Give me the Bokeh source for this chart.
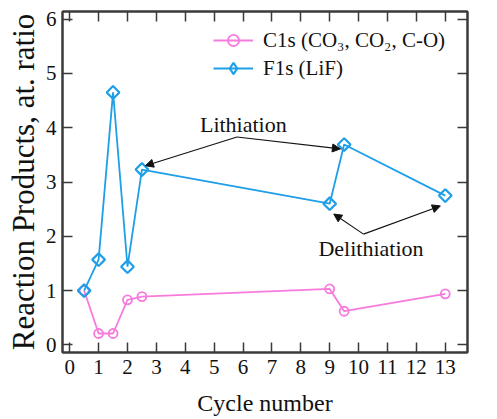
from bokeh.plotting import figure
from bokeh.models import (LinearAxis, Range1d, FixedTicker, Legend, LegendItem,
                          Label, Arrow, NormalHead)
from bokeh.embed import file_html
from bokeh.resources import INLINE
import math

# ---- data ----
c1s_x = [0.5, 1, 1.5, 2, 2.5, 9, 9.5, 13]
c1s_y = [1.0, 0.21, 0.21, 0.83, 0.89, 1.03, 0.62, 0.94]
f1s_x = [0.5, 1, 1.5, 2, 2.5, 9, 9.5, 13]
f1s_y = [1.0, 1.57, 4.65, 1.44, 3.23, 2.60, 3.69, 2.75]
x_ticks = list(range(0, 14))
y_ticks = list(range(0, 7))
c1s_label = "C1s (CO\u2083, CO\u2082, C-O)"
f1s_label = "F1s (LiF)"

FONT = "Liberation Serif"
PINK = "#F77BDD"
BLUE = "#1E9FE8"
AX = "#3a3a3a"

p = figure(width=497, height=419, output_backend="svg", toolbar_location=None,
           x_range=Range1d(-0.25, 13.77), y_range=Range1d(-0.14, 6.14),
           min_border_left=62, min_border_right=30, min_border_top=11,
           min_border_bottom=67, x_axis_location=None, y_axis_location=None)
p.grid.visible = False
p.outline_line_color = AX
p.outline_line_width = 2
p.background_fill_color = "white"
p.border_fill_color = "white"


def make_axis(ticks, show_labels):
    ax = LinearAxis(ticker=FixedTicker(ticks=ticks))
    ax.axis_line_color = AX
    ax.axis_line_width = 2
    ax.major_tick_line_color = AX
    ax.major_tick_line_width = 1.5
    ax.major_tick_in = 10
    ax.major_tick_out = 0
    ax.minor_tick_line_color = None
    ax.major_label_text_font = FONT
    ax.major_label_text_font_size = "21px"
    ax.major_label_text_color = "#111111"
    if not show_labels:
        ax.major_label_text_font_size = "0px"
        ax.major_label_text_color = None
        ax.major_label_standoff = 0
    return ax

bx = make_axis(x_ticks, True)
bx.axis_label = "Cycle number"
bx.axis_label_text_font = FONT
bx.axis_label_text_font_style = "normal"
bx.axis_label_text_font_size = "24px"
bx.axis_label_text_color = "#111111"
bx.major_label_standoff = 7
bx.axis_label_standoff = 13
p.add_layout(bx, "below")

ly = make_axis(y_ticks, True)
ly.axis_label = "Reaction Products, at. ratio"
ly.axis_label_text_font = FONT
ly.axis_label_text_font_style = "normal"
ly.axis_label_text_font_size = "31px"
ly.axis_label_text_color = "#111111"
ly.major_label_standoff = 6
ly.axis_label_standoff = 2
p.add_layout(ly, "left")

p.add_layout(make_axis(x_ticks, False), "above")
p.add_layout(make_axis(y_ticks, False), "right")

# ---- series ----
c_line = p.line(c1s_x, c1s_y, line_color=PINK, line_width=1.8)
c_pts = p.scatter(c1s_x, c1s_y, marker="circle", size=9, fill_color=None,
                  line_color=PINK, line_width=1.8)
f_line = p.line(f1s_x, f1s_y, line_color=BLUE, line_width=1.8)
f_pts = p.scatter(f1s_x, f1s_y, marker="square", angle=math.pi / 4, size=9,
                  fill_color=None, line_color=BLUE, line_width=2.2)
# legend-only glyph (NaN point, never drawn in the plot) so the legend shows a diamond
f_key = p.scatter(x=[float("nan")], y=[float("nan")], marker="diamond", size=16,
                  fill_color=None, line_color=BLUE, line_width=2.2)

legend = Legend(items=[LegendItem(label=c1s_label, renderers=[c_line, c_pts]),
                       LegendItem(label=f1s_label, renderers=[f_line, f_key])],
                location=(151, 270))
legend.border_line_color = None
legend.background_fill_alpha = 0
legend.padding = 0
legend.margin = 0
legend.glyph_width = 40
legend.glyph_height = 28
legend.spacing = 0
legend.label_standoff = 10
legend.label_text_font = FONT
legend.label_text_font_size = "21px"
legend.label_text_color = "#111111"
p.add_layout(legend, "center")

# ---- annotations ----
lith_text = (6.01, 4.06)
lith_origin = (5.79, 3.83)
lith_targets = [(2.62, 3.30), (9.37, 3.61)]
deli_text = (10.43, 1.78)
deli_origin = (10.17, 2.04)
deli_targets = [(9.14, 2.41), (12.83, 2.56)]

for origin, targets in ((lith_origin, lith_targets), (deli_origin, deli_targets)):
    for (tx, ty) in targets:
        p.add_layout(Arrow(x_start=origin[0], y_start=origin[1], x_end=tx, y_end=ty,
                           line_color="#111111", line_width=1.1,
                           end=NormalHead(size=8, fill_color="#111111",
                                          line_color="#111111", line_width=1)))

for (tx, ty), txt in ((lith_text, "Lithiation"), (deli_text, "Delithiation")):
    p.add_layout(Label(x=tx, y=ty, text=txt, text_font=FONT,
                       text_font_size="22px", text_align="center",
                       text_baseline="alphabetic", text_color="#111111"))
p.add_layout(Label(x=14.35, y=5.65, text="B", text_font=FONT,
                   text_font_size="20px", text_align="left", text_baseline="alphabetic",
                   text_color="#111111"))

open("out.html", "w").write(file_html(p, INLINE))
